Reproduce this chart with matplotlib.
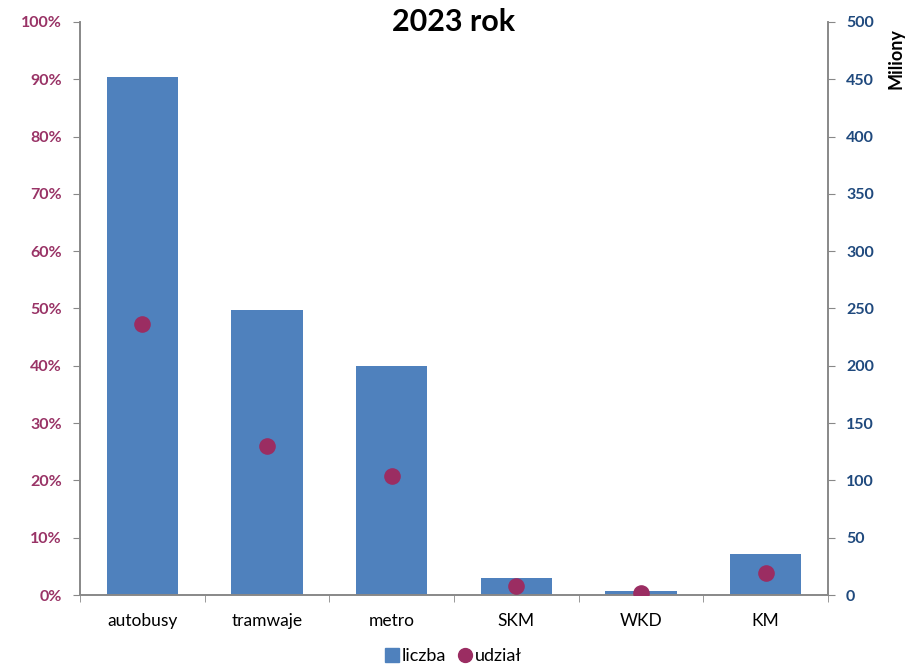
import numpy as np
import matplotlib.pyplot as plt
from matplotlib.lines import Line2D

plt.rcParams['font.family'] = ['Lato', 'DejaVu Sans']

categories = ['autobusy', 'tramwaje', 'metro', 'SKM', 'WKD', 'KM']
liczba = [452, 249, 200, 15, 3.5, 36]          # miliony
udzial = [47.3, 26.0, 20.8, 1.6, 0.3, 3.8]     # %

BAR_COLOR = '#4F81BD'
DOT_COLOR = '#9B2D62'
LEFT_COLOR = '#993366'
RIGHT_COLOR = '#1F497D'
AXIS_GRAY = '#888888'

fig = plt.figure(figsize=(9.22, 6.66), dpi=100)
ax = fig.add_axes([0.0868, 0.1066, 0.8112, 0.8604])
ax2 = ax.twinx()

x = np.arange(len(categories))

# bars on right axis, dots on left axis
ax2.bar(x, liczba, width=0.57, color=BAR_COLOR, zorder=1)
ax.set_zorder(ax2.get_zorder() + 1)
ax.patch.set_visible(False)
ax.scatter(x, udzial, s=120, color=DOT_COLOR, zorder=3)

ax.set_xlim(-0.5, len(categories) - 0.5)
ax.set_ylim(0, 100)
ax2.set_ylim(0, 500)

ax.set_yticks(np.arange(0, 101, 10))
ax.set_yticklabels([f'{v}%' for v in range(0, 101, 10)])
ax2.set_yticks(np.arange(0, 501, 50))

ax.set_xticks(x)
ax.set_xticklabels(categories, fontsize=12.5)
ax.set_xticks(np.arange(-0.5, len(categories)), minor=True)
ax.tick_params(axis='x', which='major', length=0, pad=13)
ax.tick_params(axis='x', which='minor', length=5, color=AXIS_GRAY)

ax.tick_params(axis='y', length=5, color=AXIS_GRAY, labelcolor=LEFT_COLOR, labelsize=11.5, pad=8)
ax2.tick_params(axis='y', length=5, color=AXIS_GRAY, labelcolor=RIGHT_COLOR, labelsize=11.5, pad=8)
for t in ax.get_yticklabels() + ax2.get_yticklabels():
    t.set_fontweight('bold')

for a in (ax, ax2):
    a.spines['top'].set_visible(False)
    for s in ('left', 'right', 'bottom'):
        a.spines[s].set_color(AXIS_GRAY)
        a.spines[s].set_linewidth(1.2)

fig.text(0.492, 0.967, '2023 rok', ha='center', va='center', fontsize=22, fontweight='bold')
fig.text(0.972, 0.958, 'Miliony', rotation=90, ha='center', va='top',
         fontsize=13, fontweight='bold')

# legend
handles = [Line2D([], [], marker='s', linestyle='', color=BAR_COLOR, markersize=10),
           Line2D([], [], marker='o', linestyle='', color=DOT_COLOR, markersize=10)]
fig.legend(handles, ['liczba', 'udział'], loc='center', bbox_to_anchor=(0.49, 0.015),
           ncol=2, frameon=False, fontsize=13, handletextpad=0.0, columnspacing=0.5,
           handlelength=1.1)

plt.savefig('out.png', dpi=100)
